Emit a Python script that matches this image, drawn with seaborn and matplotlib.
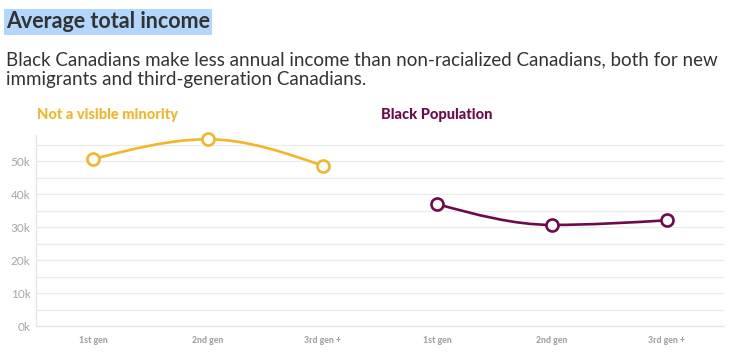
import matplotlib
matplotlib.use("Agg")
import matplotlib.pyplot as plt
from matplotlib.path import Path
from matplotlib.patches import PathPatch
import numpy as np
import pandas as pd
import seaborn as sns

# ---- data ----
generations = ["1st gen", "2nd gen", "3rd gen +"]
groups = ["Not a visible minority", "Black Population"]
not_visible_income = [50700, 56700, 48700]
black_income = [37000, 30700, 32100]
group_colors = ["#F3B52A", "#6E0A4C"]

rows = []
for g, vals in enumerate([not_visible_income, black_income]):
    for i, v in enumerate(vals):
        rows.append({"group": groups[g], "gen": generations[i], "pos": g * 3 + i, "income": v})
df = pd.DataFrame(rows)

sns.set_style("white")
plt.rcParams["font.family"] = ["Lato", "DejaVu Sans"]


def monotone_path(x, y):
    # smooth monotone-x curve through the points (cubic bezier segments)
    x = np.asarray(x, float)
    y = np.asarray(y, float)
    h = np.diff(x)
    s = np.diff(y) / h
    t = np.zeros(len(x))
    for i in range(1, len(x) - 1):
        if np.sign(s[i - 1]) == np.sign(s[i]) and s[i] != 0:
            p = (s[i - 1] * h[i] + s[i] * h[i - 1]) / (h[i - 1] + h[i])
            t[i] = np.sign(s[i]) * min(abs(s[i - 1]), abs(s[i]), 0.5 * abs(p)) * 2
    t[0] = (3 * s[0] - t[1]) / 2
    t[-1] = (3 * s[-1] - t[-2]) / 2
    verts = [(x[0], y[0])]
    codes = [Path.MOVETO]
    for i in range(len(x) - 1):
        dx = h[i] / 3
        verts += [(x[i] + dx, y[i] + dx * t[i]), (x[i + 1] - dx, y[i + 1] - dx * t[i + 1]), (x[i + 1], y[i + 1])]
        codes += [Path.CURVE4] * 3
    return Path(verts, codes)


fig = plt.figure(figsize=(7.38, 3.57), dpi=100)
ax = fig.add_axes([0.0488, 0.0868, 0.9322, 0.535])

for g, name in enumerate(groups):
    sub = df[df["group"] == name]
    ax.add_patch(PathPatch(monotone_path(sub["pos"], sub["income"]), fill=False,
                           edgecolor=group_colors[g], lw=1.9, zorder=3, capstyle="round"))
    sns.scatterplot(data=sub, x="pos", y="income", ax=ax, s=75, color="white",
                    edgecolor=group_colors[g], linewidth=1.9, zorder=4,
                    legend=False, clip_on=False)

ax.set_xlim(-0.5, 5.5)
ax.set_ylim(0, 58000)
ax.set_yticks(np.arange(0, 50001, 10000))
ax.set_yticks(np.arange(5000, 55001, 10000), minor=True)
ax.set_yticklabels([f"{v // 1000}k" for v in range(0, 50001, 10000)])
ax.set_xticks(df["pos"])
ax.set_xticklabels(generations * 2, fontsize=6.3, fontweight="black", color="#a3a3a3")
ax.tick_params(axis="y", which="both", length=0, labelsize=8.5, labelcolor="#a6a6a6", pad=4)
ax.tick_params(axis="x", length=4, color="#e6e6e6", pad=3)
ax.grid(axis="y", which="both", color="#ebebeb", lw=0.9)
ax.set_axisbelow(True)
for side in ["top", "right"]:
    ax.spines[side].set_visible(False)
for side in ["left", "bottom"]:
    ax.spines[side].set_color("#e6e6e6")
    ax.spines[side].set_linewidth(1)
ax.set_xlabel("")
ax.set_ylabel("")

# group labels above the panels
fig.text(37 / 738, 1 - 115 / 357, groups[0], fontsize=10.5, fontweight="black",
         color=group_colors[0], va="center", ha="left")
fig.text(381 / 738, 1 - 115 / 357, groups[1], fontsize=10.5, fontweight="black",
         color=group_colors[1], va="center", ha="left")

fig.text(6 / 738, 1 - 22 / 357, "Average total income", fontsize=15.5, fontweight="bold",
         color="#333333", va="center", ha="left",
         bbox=dict(facecolor="#B3D6FD", edgecolor="none", pad=1.5))
fig.text(6 / 738, 1 - 70 / 357,
         "Black Canadians make less annual income than non-racialized Canadians, both for new\n"
         "immigrants and third-generation Canadians.",
         fontsize=13.5, color="#333333", va="center", ha="left", linespacing=1.2)

fig.savefig("out.png", dpi=100)
